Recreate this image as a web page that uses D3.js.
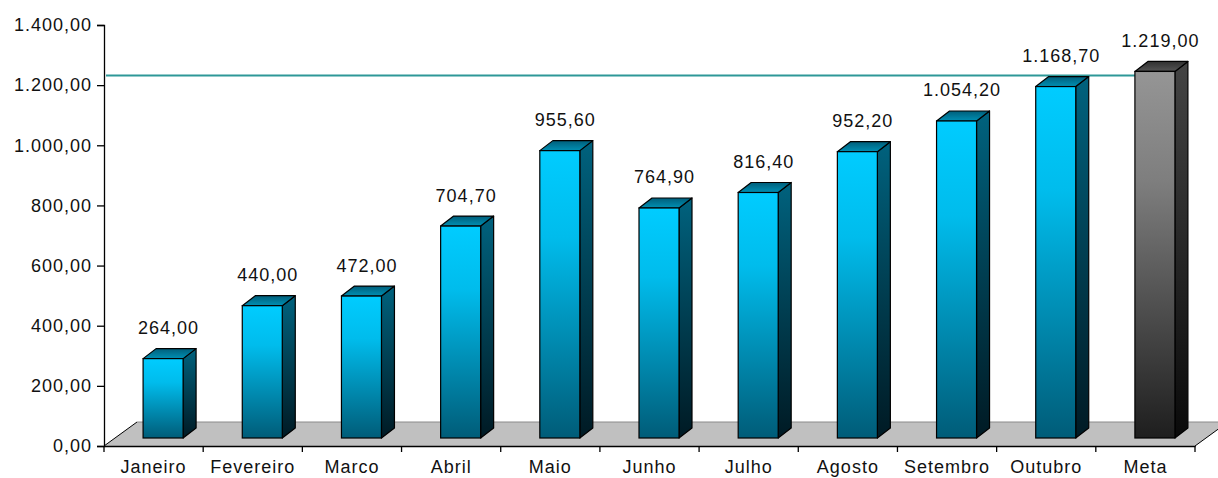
<!DOCTYPE html>
<html><head><meta charset="utf-8">
<script src="https://cdn.jsdelivr.net/npm/d3@7"></script>
<style>html,body{margin:0;padding:0;background:#fff;}svg{display:block;}</style>
</head><body>
<svg id="chart" width="1218" height="478"></svg>
<script>
const categories = ["Janeiro","Fevereiro","Marco","Abril","Maio","Junho","Julho","Agosto","Setembro","Outubro","Meta"];
const values = [264.00, 440.00, 472.00, 704.70, 955.60, 764.90, 816.40, 952.20, 1054.20, 1168.70, 1219.00];
const targetCategory = "Meta";
const targetValue = 1219.00;
const yTicks = [0, 200, 400, 600, 800, 1000, 1200, 1400];

const locale = d3.formatLocale({decimal: ",", thousands: ".", grouping: [3], currency: ["R$ ", ""]});
const fmt = locale.format(",.2f");

const W = 1218, H = 478;
const svg = d3.select("#chart");
const font = "'Liberation Sans', Arial, sans-serif";

const x = d3.scaleBand().domain(categories).range([104, 1195]).paddingInner(0).paddingOuter(0);
const y = d3.scaleLinear().domain([0, 1400]).range([446, 25]);

// depth geometry
const floorDX = 33, floorDY = -24;
const barFrontDX = 9.5, barFrontDY = -8;
const barDepthDX = 13, barDepthDY = -10;
const barW = 40;
const lineDY = -4;

const defs = svg.append("defs");
function vgrad(id, stops) {
  const g = defs.append("linearGradient").attr("id", id).attr("x1", 0).attr("y1", 0).attr("x2", 0).attr("y2", 1);
  stops.forEach(s => g.append("stop").attr("offset", s[0]).attr("stop-color", s[1]));
}
vgrad("cyanFront", [[0, "#00CCFF"], [0.3, "#00BCEC"], [1, "#005C78"]]);
vgrad("cyanSide", [[0, "#00627E"], [1, "#001A24"]]);
vgrad("cyanTop", [[0, "#005E7A"], [1, "#0090B4"]]);
vgrad("grayFront", [[0, "#959595"], [0.3, "#7E7E7E"], [1, "#1E1E1E"]]);
vgrad("graySide", [[0, "#444444"], [1, "#0A0A0A"]]);
vgrad("grayTop", [[0, "#303030"], [1, "#555555"]]);

// floor
const fx0 = x.range()[0], fx1 = x.range()[1], fy = y(0);
svg.append("path")
  .attr("d", `M${fx0},${fy} L${fx0 + floorDX},${fy + floorDY} L${fx1 + floorDX},${fy + floorDY} L${fx1},${fy} Z`)
  .attr("fill", "#C0C0C0").attr("stroke", "none");
svg.append("line").attr("x1", fx0 + floorDX).attr("y1", fy + floorDY).attr("x2", fx1 + floorDX).attr("y2", fy + floorDY)
  .attr("stroke", "#8A8A8A").attr("stroke-width", 1);
svg.append("line").attr("x1", fx0).attr("y1", fy).attr("x2", fx0 + floorDX).attr("y2", fy + floorDY)
  .attr("stroke", "#000").attr("stroke-width", 1);
svg.append("line").attr("x1", fx1).attr("y1", fy).attr("x2", fx1 + floorDX).attr("y2", fy + floorDY)
  .attr("stroke", "#000").attr("stroke-width", 1);

// y axis
const yAxis = d3.axisLeft(y).tickValues(yTicks).tickFormat(fmt).tickSize(7).tickPadding(5);
const gy = svg.append("g").attr("transform", `translate(${fx0},0)`).call(yAxis);
gy.select(".domain").attr("stroke", "#000").attr("stroke-width", 1.3);
gy.selectAll(".tick line").attr("stroke", "#000").attr("stroke-width", 1.3);
gy.selectAll(".tick text").attr("font-family", font).attr("font-size", 18).attr("fill", "#111")
  .style("letter-spacing", "1px");

// x axis
const xAxis = d3.axisBottom(x).tickSize(0).tickPadding(0);
const gx = svg.append("g").attr("transform", `translate(0,${y(0)})`).call(xAxis);
gx.select(".domain").attr("stroke", "#000").attr("stroke-width", 1.3);
gx.selectAll(".tick text").attr("font-family", font).attr("font-size", 18).attr("fill", "#111")
  .attr("y", 27).attr("dy", 0).style("letter-spacing", "1px");
const boundaries = categories.map(c => x(c)).concat([x.range()[1]]);
gx.selectAll(".bt").data(boundaries).enter().append("line")
  .attr("x1", d => d).attr("x2", d => d).attr("y1", 0).attr("y2", 6)
  .attr("stroke", "#000").attr("stroke-width", 1.3);

// target line
svg.append("line")
  .attr("x1", fx0 + 2).attr("x2", x(targetCategory) + x.bandwidth() / 2)
  .attr("y1", y(targetValue) + lineDY).attr("y2", y(targetValue) + lineDY)
  .attr("stroke", "#2E9898").attr("stroke-width", 2);

// bars
const data = categories.map((c, i) => ({c, v: values[i], target: c === targetCategory}));
const bars = svg.append("g").selectAll("g").data(data).enter().append("g");
bars.each(function(d) {
  const g = d3.select(this);
  const cx = x(d.c) + x.bandwidth() / 2;
  const x0 = cx - barW / 2 + barFrontDX, x1 = x0 + barW;
  const yb = y(0) + barFrontDY, yt = y(d.v) + barFrontDY;
  const p = d.target ? "gray" : "cyan";
  g.append("path")
    .attr("d", `M${x1},${yt} L${x1 + barDepthDX},${yt + barDepthDY} L${x1 + barDepthDX},${yb + barDepthDY} L${x1},${yb} Z`)
    .attr("fill", `url(#${p}Side)`).attr("stroke", "#000").attr("stroke-width", 1.2).attr("stroke-linejoin", "round");
  g.append("path")
    .attr("d", `M${x0},${yt} L${x0 + barDepthDX},${yt + barDepthDY} L${x1 + barDepthDX},${yt + barDepthDY} L${x1},${yt} Z`)
    .attr("fill", `url(#${p}Top)`).attr("stroke", "#000").attr("stroke-width", 1.2).attr("stroke-linejoin", "round");
  g.append("rect")
    .attr("x", x0).attr("y", yt).attr("width", barW).attr("height", yb - yt)
    .attr("fill", `url(#${p}Front)`).attr("stroke", "#000").attr("stroke-width", 1.2);
});

// value labels
svg.append("g").selectAll("text").data(data).enter().append("text")
  .attr("x", d => x(d.c) + x.bandwidth() / 2 + 15)
  .attr("y", d => y(d.v) + barFrontDY + barDepthDY - 21 + 6.5)
  .attr("text-anchor", "middle")
  .attr("font-family", font).attr("font-size", 18).attr("fill", "#111")
  .style("letter-spacing", "1px")
  .text(d => fmt(d.v));
</script>
</body></html>
